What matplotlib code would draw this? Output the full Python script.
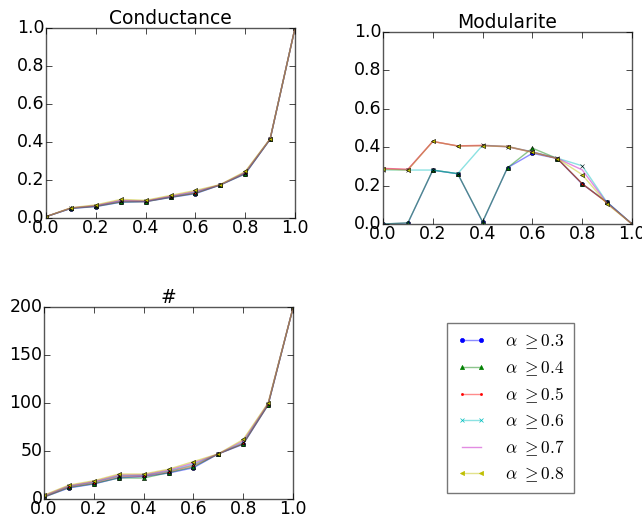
import matplotlib
matplotlib.use("Agg")
import matplotlib.pyplot as plt
from matplotlib.lines import Line2D

plt.style.use("classic")
plt.rcParams["mathtext.fontset"] = "cm"

x = [0.0, 0.1, 0.2, 0.3, 0.4, 0.5, 0.6, 0.7, 0.8, 0.9, 1.0]
labels = [r"$\alpha\ \geq0.3$", r"$\alpha\ \geq0.4$", r"$\alpha\ \geq0.5$",
          r"$\alpha\ \geq0.6$", r"$\alpha\ \geq0.7$", r"$\alpha\ \geq0.8$"]
colors = ["b", "g", "r", "c", "m", "y"]
markers = ["o", "^", ".", "x", "", "<"]

conductance = [
    [0.007, 0.050, 0.060, 0.083, 0.086, 0.108, 0.128, 0.174, 0.232, 0.414, 1.0],
    [0.007, 0.051, 0.061, 0.084, 0.086, 0.109, 0.130, 0.174, 0.233, 0.414, 1.0],
    [0.007, 0.052, 0.063, 0.088, 0.087, 0.111, 0.133, 0.175, 0.237, 0.415, 1.0],
    [0.007, 0.052, 0.064, 0.090, 0.088, 0.112, 0.136, 0.175, 0.239, 0.415, 1.0],
    [0.007, 0.053, 0.066, 0.093, 0.090, 0.115, 0.140, 0.175, 0.241, 0.416, 1.0],
    [0.007, 0.054, 0.069, 0.098, 0.093, 0.119, 0.145, 0.176, 0.245, 0.417, 1.0],
]

modularite = [
    [0.000, 0.005, 0.280, 0.262, 0.010, 0.293, 0.368, 0.341, 0.208, 0.114, 0.0],
    [0.000, 0.006, 0.281, 0.262, 0.012, 0.293, 0.395, 0.341, 0.210, 0.112, 0.0],
    [0.290, 0.285, 0.430, 0.407, 0.410, 0.404, 0.375, 0.341, 0.210, 0.110, 0.0],
    [0.282, 0.281, 0.281, 0.262, 0.410, 0.403, 0.376, 0.343, 0.303, 0.112, 0.0],
    [0.287, 0.283, 0.430, 0.406, 0.408, 0.402, 0.374, 0.342, 0.282, 0.108, 0.0],
    [0.285, 0.281, 0.430, 0.406, 0.407, 0.403, 0.373, 0.341, 0.257, 0.104, 0.0],
]

nombre = [
    [2.0, 11.5, 15.6, 22.0, 23.5, 27.0, 32.5, 47.0, 57.0, 98.0, 199.0],
    [2.0, 12.0, 16.0, 22.0, 21.8, 27.5, 33.5, 47.0, 57.5, 98.0, 199.0],
    [2.5, 12.8, 17.0, 23.5, 24.0, 28.5, 35.0, 47.0, 58.0, 98.5, 199.0],
    [3.0, 13.2, 17.5, 24.0, 24.5, 29.0, 36.0, 47.0, 59.0, 99.0, 199.0],
    [3.5, 13.8, 18.2, 25.0, 25.2, 30.0, 37.5, 47.0, 60.5, 99.5, 199.0],
    [4.0, 14.5, 19.0, 26.0, 26.0, 31.0, 39.0, 47.0, 62.0, 100.0, 199.0],
]

W, H = 642, 517
fig = plt.figure(figsize=(W / 100, H / 100), dpi=100, facecolor="white")

def px(l, t, r, b):
    return [l / W, 1 - b / H, (r - l) / W, (b - t) / H]

ax1 = fig.add_axes(px(46, 28, 295, 218))
ax2 = fig.add_axes(px(383, 32, 632, 224))
ax3 = fig.add_axes(px(44, 307, 293, 499))

ticklbl = ["0.0", "0.2", "0.4", "0.6", "0.8", "1.0"]

def draw(ax, data, title, ylim, yticks):
    for vals, c, m in zip(data, colors, markers):
        ax.plot(x, vals, color=c, alpha=0.45, lw=1.0)
        if m:
            ax.plot(x, vals, linestyle="none", marker=m, markersize=3,
                    markerfacecolor=c, markeredgecolor="k", markeredgewidth=0.4)
    ax.set_xlim(0, 1)
    ax.set_ylim(*ylim)
    ax.set_xticks([0.0, 0.2, 0.4, 0.6, 0.8, 1.0])
    ax.set_xticklabels(ticklbl)
    ax.set_yticks(yticks)
    ax.set_title(title, fontsize=13.5, pad=3)
    ax.tick_params(labelsize=12.5, direction="in", top=True, right=True,
                   length=4, pad=1)
    for s in ax.spines.values():
        s.set_color("#555555")

draw(ax1, conductance, "Conductance", (0, 1), [0.0, 0.2, 0.4, 0.6, 0.8, 1.0])
draw(ax2, modularite, "Modularite", (0, 1), [0.0, 0.2, 0.4, 0.6, 0.8, 1.0])
draw(ax3, nombre, "#", (0, 200), [0, 50, 100, 150, 200])
for ax in (ax1, ax2):
    ax.set_yticklabels(ticklbl)

handles = []
for c, m in zip(colors, markers):
    line = Line2D([], [], color=c, alpha=0.45, lw=1.0)
    mk = Line2D([], [], linestyle="none", marker=m if m else None,
                markersize=3, markerfacecolor=c, markeredgecolor=c,
                markeredgewidth=0.5)
    handles.append((line, mk))
leg = fig.legend(handles, labels,
                 loc="upper left", bbox_to_anchor=(447 / W, 1 - 323 / H),
                 borderaxespad=0, numpoints=2, fontsize=12.5, frameon=True,
                 fancybox=False, handlelength=1.7, borderpad=0.55,
                 labelspacing=0.42, handletextpad=1.1)
leg.get_frame().set_edgecolor("#777777")

fig.savefig("out.png", dpi=100, facecolor="white")
